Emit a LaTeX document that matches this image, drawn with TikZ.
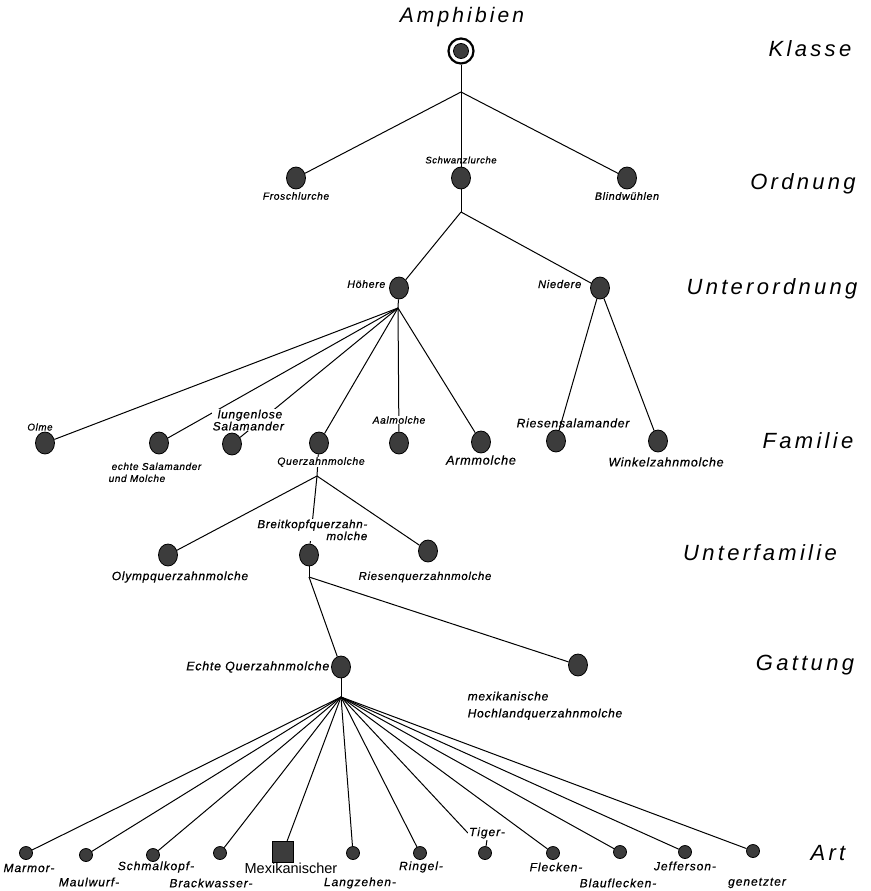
\documentclass[tikz,border=0pt]{standalone}
\usepackage{fontspec}
\setmainfont{Liberation Sans}
\newfontfamily\spc[LetterSpace=15]{Liberation Sans}
\newfontfamily\sps[LetterSpace=8,FakeBold=0.4]{Liberation Sans}
\newfontfamily\spl[LetterSpace=6,FakeBold=0.6]{Liberation Sans}
\usetikzlibrary{shapes.geometric}
\pgfdeclarelayer{bg}
\pgfdeclarelayer{edges}
\pgfsetlayers{bg,edges,main}
\definecolor{dotgray}{HTML}{3C3C3C}
\tikzset{
  fam/.style={ellipse, draw=black, fill=dotgray, line width=0.8pt, minimum width=19pt, minimum height=22pt, inner sep=0},
  spc/.style={circle, draw=black, fill=dotgray, line width=0.8pt, minimum size=13pt, inner sep=0},
  rank/.style={font=\spc\itshape\fontsize{22}{24}\selectfont, inner sep=0},
  sm/.style={font=\spl\itshape\fontsize{#1}{12}\selectfont, inner sep=0.5pt},
  sm/.default=10.5,
  smw/.style={sm=#1, fill=white},
  smw/.default=10.5,
  splbl/.style={font=\sps\itshape\fontsize{12}{13}\selectfont, inner sep=0},
  edge/.style={line width=1pt, black},
}
\begin{document}
\begin{tikzpicture}[x=1pt,y=-1pt]
\begin{pgfonlayer}{bg}
\fill[white] (0,0) rectangle (870,891);
\end{pgfonlayer}
\useasboundingbox (0,0) rectangle (870,891);

% rank labels
\node[rank] (r1) at (810,49) {Klasse};
\node[rank] (r2) at (803,184) {Ordnung};
\node[rank] (r3) at (772,289) {Unterordnung};
\node[rank] (r4) at (808,441) {Familie};
\node[rank] (r5) at (760,553) {Unterfamilie};
\node[rank] (r6) at (805,665) {Gattung};
\node[rank] (r7) at (828,853) {Art};

% root
\node[font=\spc\itshape\fontsize{21}{24}\selectfont, inner sep=0] (amphl) at (462,17) {Amphibien};
\node[circle, draw=black, line width=2.2pt, minimum size=25pt, inner sep=0] (root) at (461,51) {};
\node[circle, draw=black, fill=dotgray, line width=0.8pt, minimum size=15pt, inner sep=0] (rootin) at (461,51) {};

% junctions
\coordinate (j0) at (461,92);
\coordinate (j1) at (461,212);
\coordinate (j2) at (398,308);
\coordinate (j3) at (317,476);
\coordinate (j4) at (309,577);
\coordinate (j5) at (341,697);

% Ordnung
\node[fam] (frosch) at (296,178) {};
\node[sm=10.3] (froschl) at (296,196) {Froschlurche};
\node[fam] (schwanz) at (461,178) {};
\node[sm=9.5] (schwanzl) at (461,160) {Schwanzlurche};
\node[fam] (blind) at (627,178) {};
\node[sm=10.7] (blindl) at (627,196) {Blindwühlen};

% Unterordnung
\node[fam] (hoeh) at (399,288) {};
\node[sm=10.6, anchor=east] (hoehl) at (386,284) {Höhere};
\node[fam] (nied) at (600,288) {};
\node[sm=11.2, anchor=east] (niedl) at (582,284) {Niedere};

% Familie
\node[fam] (olme) at (45,443) {};
\node[sm=9.8] (olmel) at (40,427) {Olme};
\node[fam] (echte) at (159,443) {};
\node[sm=10, anchor=north west, align=left] (echtel) at (108,462) {\hspace*{3pt}echte Salamander\\und Molche};
\node[fam] (lungen) at (232,444) {};
\node[smw=12, anchor=north west, align=left] (lungenl) at (212,409) {\hspace*{5pt}lungenlose\\Salamander};
\node[fam] (querz) at (319,443) {};
\node[smw=10.4] (querzl) at (321,462) {Querzahnmolche};
\node[fam] (aal) at (399,443) {};
\node[smw=10.2] (aall) at (399,420) {Aalmolche};
\node[fam] (arm) at (481,442) {};
\node[sm=12.6] (arml) at (481,460) {Armmolche};
\node[fam] (riesens) at (556,441) {};
\node[sm=12.2] (riesensl) at (573,423) {Riesensalamander};
\node[fam] (winkel) at (658,441) {};
\node[sm=12.4] (winkell) at (666,462) {Winkelzahnmolche};

% Unterfamilie
\node[fam] (olymp) at (168,555) {};
\node[sm=12] (olympl) at (180,577) {Olympquerzahnmolche};
\node[fam] (breit) at (309,555) {};
\node[smw=11.6, anchor=north east, align=right] (breitl) at (368,519) {Breitkopfquerzahn-\\molche};
\node[fam] (riesenq) at (428,551) {};
\node[sm=11.4] (riesenql) at (425,577) {Riesenquerzahnmolche};

% Gattung
\node[fam] (echtq) at (341,667) {};
\node[sm=12.4, anchor=east] (echtql) at (330,667) {Echte Querzahnmolche};
\node[fam] (mexq) at (578,665) {};
\node[sm=12, anchor=north west, align=left] (mexql) at (467,691) {mexikanische\\[5pt]Hochlandquerzahnmolche};

% Art
\node[spc] (marmor) at (26,853) {};
\node[splbl] (marmorl) at (29,868) {Marmor-};
\node[spc] (maulw) at (86,855) {};
\node[splbl] (maulwl) at (89,882) {Maulwurf-};
\node[spc] (schmal) at (153,855) {};
\node[splbl] (schmall) at (156,867) {Schmalkopf-};
\node[spc] (brack) at (220,853) {};
\node[splbl] (brackl) at (211,883) {Brackwasser-};
\node[rectangle, draw=black, fill=dotgray, line width=0.8pt, minimum size=21pt, inner sep=0] (mexsq) at (283,852) {};
\node[font=\fontsize{14.5}{16}\selectfont, inner sep=0] (mexsql) at (291,868) {Mexikanischer};
\node[spc] (langz) at (353,853) {};
\node[splbl] (langzl) at (360,883) {Langzehen-};
\node[spc] (ringel) at (420,853) {};
\node[splbl] (ringell) at (421,867) {Ringel-};
\node[spc] (tiger) at (485,853) {};
\node[splbl, fill=white, inner sep=1pt] (tigerl) at (487,833) {Tiger-};
\node[spc] (flecken) at (553,853) {};
\node[splbl] (fleckenl) at (556,867) {Flecken-};
\node[spc] (blauf) at (620,852) {};
\node[splbl] (blaufl) at (618,883) {Blauflecken-};
\node[spc] (jeff) at (685,852) {};
\node[splbl] (jeffl) at (685,866) {Jefferson-};
\node[spc] (genetzt) at (753,851) {};
\node[splbl] (genetztl) at (757,883) {genetzter};

\begin{pgfonlayer}{edges}
\draw[edge] (root) -- (j0);
\draw[edge] (j0) -- (frosch);
\draw[edge] (j0) -- (schwanz);
\draw[edge] (j0) -- (blind);
\draw[edge] (schwanz) -- (j1);
\draw[edge] (j1) -- (hoeh);
\draw[edge] (j1) -- (nied);
\draw[edge] (hoeh) -- (j2);
\foreach \t in {olme,echte,lungen,querz,aal,arm} \draw[edge] (j2) -- (\t);
\draw[edge] (nied) -- (riesens);
\draw[edge] (nied) -- (winkel);
\draw[edge] (querz) -- (j3);
\foreach \t in {olymp,breit,riesenq} \draw[edge] (j3) -- (\t);
\draw[edge] (breit) -- (j4);
\draw[edge] (j4) -- (echtq);
\draw[edge] (j4) -- (mexq);
\draw[edge] (echtq) -- (j5);
\foreach \t in {marmor,maulw,schmal,brack,mexsq,langz,ringel,flecken,blauf,jeff,genetzt} \draw[edge] (j5) -- (\t);
\draw[edge] (j5) -- (tigerl.west);
\draw[edge] (tigerl.south) -- (tiger);
\end{pgfonlayer}
\end{tikzpicture}
\end{document}
